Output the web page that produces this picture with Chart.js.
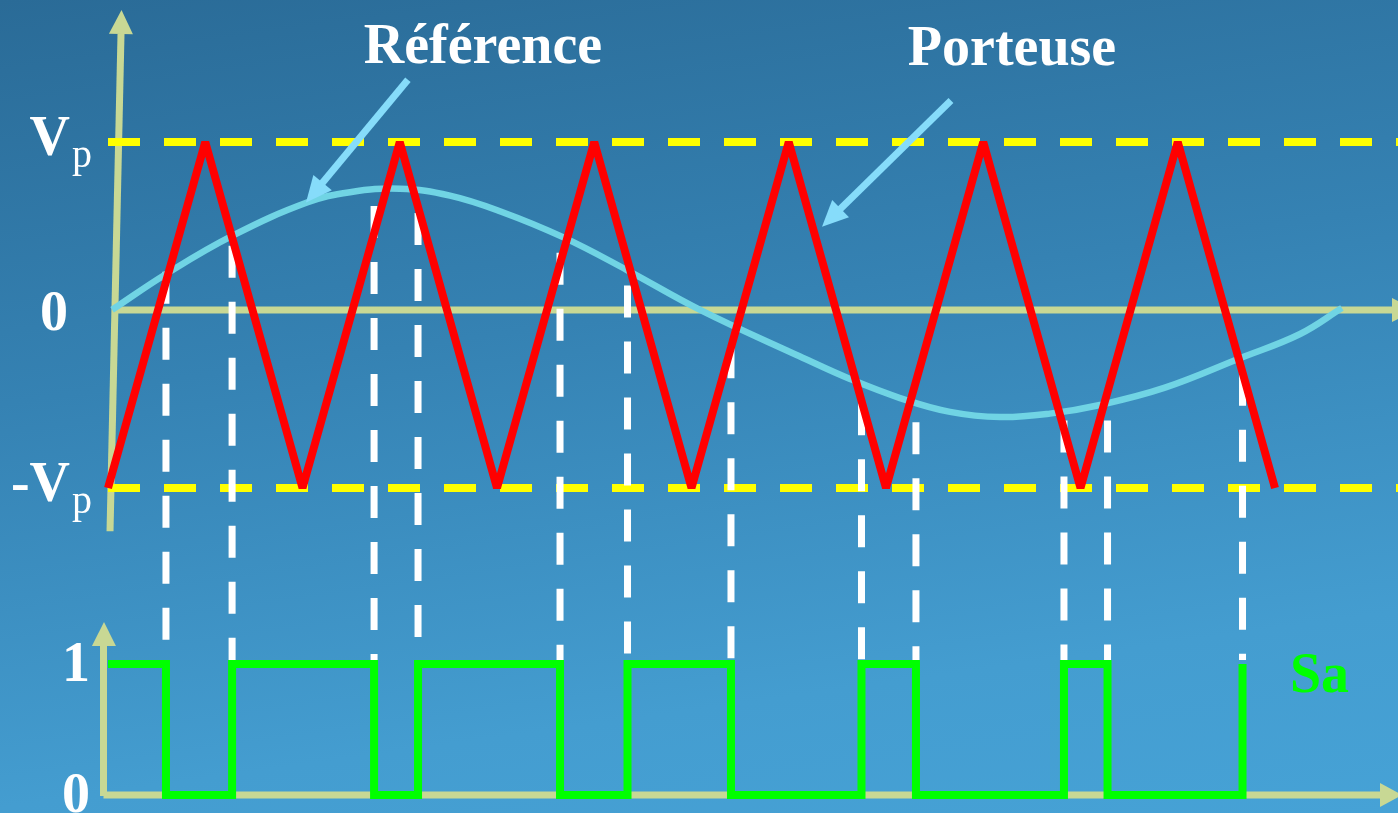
<!DOCTYPE html>
<html lang="fr">
<head>
<meta charset="utf-8">
<title>MLI sinus-triangle</title>
<script src="https://cdn.jsdelivr.net/npm/chart.js@4/dist/chart.umd.min.js"></script>
<style>
  html, body { margin: 0; padding: 0; overflow: hidden; }
  body {
    width: 1398px; height: 813px;
    background: linear-gradient(172deg, #2a6b97 0%, #3582b3 40%, #449dd0 80%, #46a2d6 100%);
  }
  #wrap { width: 1398px; height: 813px; }
</style>
</head>
<body>
<div id="wrap"><canvas id="pwm" width="1398" height="813"></canvas></div>
<script>
// time in carrier periods, amplitudes in units of Vp
const carrierTimes = [0, 0.5, 1, 1.5, 2, 2.5, 3, 3.5, 4, 4.5, 5, 5.5, 6];
const carrierValues = [-1, 1, -1, 1, -1, 1, -1, 1, -1, 1, -1, 1, -1];

const refTimes = [0.021, 0.303, 0.643, 1.023, 1.244, 1.501, 1.758, 2.015, 2.339, 2.668, 3.044,
  3.558, 3.815, 4.072, 4.329, 4.586, 4.843, 5.100, 5.434, 5.820, 6.129, 6.344];
const refValues = [0.03, 0.24, 0.46, 0.65, 0.71, 0.73, 0.69, 0.60, 0.45, 0.26, 0.03,
  -0.24, -0.37, -0.48, -0.56, -0.59, -0.57, -0.52, -0.42, -0.25, -0.11, 0.04];

// switching instants of Sa and the level reached there
const switchTimes = [0, 0.298, 0.638, 1.368, 1.594, 2.324, 2.671, 3.203, 3.874, 4.154, 4.915, 5.139, 5.833];
const saLevels = [1, 0, 1, 0, 1, 0, 1, 0, 1, 0, 1, 0, 1];
// value where reference and carrier meet at each switching instant
const crossValues = [0.25, 0.40, 0.63, 0.59, 0.36, 0.17, -0.18, -0.51, -0.62, -0.61, -0.61, -0.34];

const topTickValues = [1, 0, -1];
const topTickLabels = ['V', '0', '-V'];
const topTickSubs = ['p', '', 'p'];
const bottomTickValues = [1, 0];
const bottomTickLabels = ['1', '0'];

const limitLevels = [1, -1];
const tEnd = 6.6324;

const AXIS = '#c8d894';
const ARROW = '#86dcfa';
const SERIF = '"Liberation Serif", "DejaVu Serif", serif';

const pts = (xs, ys) => xs.map((x, i) => ({ x: x, y: ys[i] }));

function arrowHead(ctx, x0, y0, x1, y1, len, half) {
  const a = Math.atan2(y1 - y0, x1 - x0);
  const bx = x1 - len * Math.cos(a), by = y1 - len * Math.sin(a);
  ctx.beginPath();
  ctx.moveTo(x1, y1);
  ctx.lineTo(bx + half * Math.sin(a), by - half * Math.cos(a));
  ctx.lineTo(bx - half * Math.sin(a), by + half * Math.cos(a));
  ctx.closePath();
  ctx.fill();
}

function line(ctx, x0, y0, x1, y1) {
  ctx.beginPath();
  ctx.moveTo(x0, y0);
  ctx.lineTo(x1, y1);
  ctx.stroke();
}

const decor = {
  id: 'decor',
  beforeDatasetsDraw(chart) {
    const ctx = chart.ctx, x = chart.scales.x, y = chart.scales.y, y2 = chart.scales.y2;
    const x0 = x.getPixelForValue(0);
    const right = chart.chartArea.right;
    ctx.save();
    ctx.strokeStyle = AXIS;
    ctx.fillStyle = AXIS;
    ctx.lineWidth = 7;
    ctx.lineCap = 'butt';

    // upper panel: vertical axis (slightly leaning) and time axis
    const yz = y.getPixelForValue(0) - 5;
    line(ctx, x0 + 2, y.getPixelForValue(-1.25), x0 + 13, 34);
    arrowHead(ctx, x0 + 2, 500, x0 + 13.5, 10, 24, 12);
    line(ctx, x0 + 4, yz, right - 6, yz);
    arrowHead(ctx, x0, yz, right + 18, yz, 24, 12);

    // lower panel: Sa axes
    const yb = y2.getPixelForValue(0);
    const xb = x0 - 4.5;
    line(ctx, xb, yb + 1, xb, y2.getPixelForValue(1.15));
    arrowHead(ctx, xb, yb, xb + 0.5, y2.getPixelForValue(1.32), 24, 12);
    line(ctx, xb, yb, right - 18, yb);
    arrowHead(ctx, xb, yb, right + 4, yb, 22, 12);
    ctx.restore();
  },
  beforeDatasetDraw(chart, args) {
    if (args.meta.label !== 'Référence') return;
    const ctx = chart.ctx, x = chart.scales.x, y = chart.scales.y, y2 = chart.scales.y2;
    ctx.save();
    ctx.strokeStyle = '#ffffff';
    ctx.lineWidth = 7;
    ctx.setLineDash([32, 24]);
    const yEnd = y2.getPixelForValue(1) - 4;
    crossValues.forEach((v, i) => {
      const px = x.getPixelForValue(switchTimes[i + 1]);
      line(ctx, px, y.getPixelForValue(v), px, yEnd);
    });
    ctx.restore();
  },
  afterDatasetsDraw(chart) {
    const ctx = chart.ctx, x = chart.scales.x, y = chart.scales.y, y2 = chart.scales.y2;
    const x0 = x.getPixelForValue(0);
    ctx.save();

    // pointer arrows to the two waveforms
    ctx.strokeStyle = ARROW;
    ctx.fillStyle = ARROW;
    ctx.lineWidth = 7;
    const arrows = [[1.542, 1.36, 1.018, 0.65], [4.334, 1.24, 3.671, 0.51]];
    arrows.forEach(a => {
      const ax = x.getPixelForValue(a[0]), ay = y.getPixelForValue(a[1]);
      const bx = x.getPixelForValue(a[2]), by = y.getPixelForValue(a[3]);
      const ang = Math.atan2(by - ay, bx - ax);
      line(ctx, ax, ay, bx - 18 * Math.cos(ang), by - 18 * Math.sin(ang));
      arrowHead(ctx, ax, ay, bx, by, 26, 12);
    });

    ctx.fillStyle = '#ffffff';
    ctx.textBaseline = 'alphabetic';
    ctx.font = 'bold 56px ' + SERIF;
    ctx.textAlign = 'center';
    ctx.fillText('Référence', x.getPixelForValue(1.928), y.getPixelForValue(1.457));
    ctx.fillText('Porteuse', x.getPixelForValue(4.648), y.getPixelForValue(1.445));

    // tick labels of the upper panel (V with subscript p)
    topTickValues.forEach((v, i) => {
      const py = y.getPixelForValue(v);
      ctx.textAlign = 'right';
      ctx.font = 'bold 56px ' + SERIF;
      if (topTickSubs[i]) {
        ctx.fillText(topTickLabels[i], x0 - 38, py + 13);
        ctx.font = '40px ' + SERIF;
        ctx.textAlign = 'left';
        ctx.fillText(topTickSubs[i], x0 - 36, py + 25);
      } else {
        ctx.fillText(topTickLabels[i], x0 - 40, py + 15);
      }
    });

    ctx.font = 'bold 56px ' + SERIF;
    ctx.textAlign = 'right';
    bottomTickValues.forEach((v, i) => {
      ctx.fillText(bottomTickLabels[i], x0 - 18, y2.getPixelForValue(v) + 17);
    });

    ctx.fillStyle = '#00ff00';
    ctx.textAlign = 'left';
    ctx.fillText('Sa', x.getPixelForValue(6.077), y2.getPixelForValue(1) + 28);
    ctx.restore();
  }
};

new Chart(document.getElementById('pwm'), {
  type: 'line',
  data: {
    datasets: [
      {
        label: 'Sa',
        data: pts(switchTimes, saLevels),
        yAxisID: 'y2',
        stepped: true,
        borderColor: '#00ff00',
        borderWidth: 8,
        borderJoinStyle: 'miter',
        pointRadius: 0,
        order: 1
      },
      {
        label: 'Porteuse',
        data: pts(carrierTimes, carrierValues),
        yAxisID: 'y',
        borderColor: '#ff0000',
        borderWidth: 8,
        borderJoinStyle: 'bevel',
        pointRadius: 0,
        order: 2
      },
      {
        label: 'Référence',
        data: pts(refTimes, refValues),
        yAxisID: 'y',
        borderColor: '#70d4e4',
        borderWidth: 6.5,
        tension: 0.4,
        pointRadius: 0,
        order: 3
      },
      {
        label: 'Vp',
        data: [{ x: 0, y: limitLevels[0] }, { x: tEnd, y: limitLevels[0] }],
        yAxisID: 'y',
        borderColor: '#ffff00',
        borderWidth: 8,
        borderDash: [32, 24],
        pointRadius: 0,
        order: 4
      },
      {
        label: '-Vp',
        data: [{ x: 0, y: limitLevels[1] }, { x: tEnd, y: limitLevels[1] }],
        yAxisID: 'y',
        borderColor: '#ffff00',
        borderWidth: 8,
        borderDash: [32, 24],
        pointRadius: 0,
        order: 5
      }
    ]
  },
  options: {
    responsive: false,
    animation: false,
    events: [],
    layout: { padding: 0 },
    plugins: { legend: { display: false }, tooltip: { enabled: false } },
    scales: {
      x: { type: 'linear', min: -0.5553, max: tEnd, display: false },
      y: { min: -2.8786, max: 1.8208, display: false },
      y2: { min: -0.1374, max: 6.0687, display: false }
    }
  },
  plugins: [decor]
});
</script>
</body>
</html>
